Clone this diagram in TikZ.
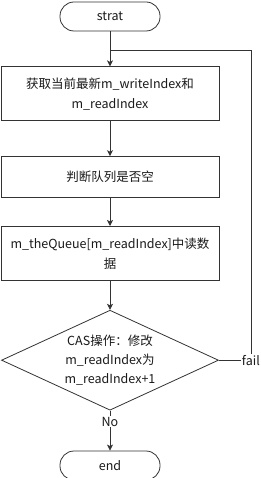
\documentclass[tikz,border=0pt]{standalone}
\usepackage{fontspec}
\setmainfont{Noto Sans CJK SC}
\usepackage{xcolor}
\usepackage{tikz}
\usetikzlibrary{positioning,arrows.meta,shapes.geometric,calc}
\definecolor{clinea}{HTML}{333333}
\definecolor{ctexto}{HTML}{1A1A1A}
\tikzset{
  caja/.style={rectangle, draw=clinea, line width=0.8pt, fill=white,
    align=center, minimum width=218pt, font=\fontsize{12.5}{20}\selectfont, text=ctexto},
  cajat/.style={rectangle, rounded corners=14pt, draw=clinea, line width=0.8pt,
    minimum width=100pt, minimum height=29pt, font=\fontsize{12.5}{20}\selectfont, text=ctexto},
  rombo/.style={diamond, draw=clinea, line width=0.8pt, aspect=2.2, inner sep=0pt,
    minimum width=217pt, minimum height=100pt, align=center,
    font=\fontsize{12.5}{19}\selectfont, text=ctexto},
  flecha/.style={-{Stealth[length=6pt, width=6pt, inset=1.5pt]}, line width=0.8pt, draw=clinea},
  linea/.style={line width=0.8pt, draw=clinea},
  etq/.style={font=\fontsize{12.5}{15}\selectfont, text=ctexto, fill=white, inner sep=1pt},
}
\begin{document}
\begin{tikzpicture}
  \useasboundingbox (0,0) rectangle (261pt,-478pt);
  \node[cajat] (inicio) at (110pt,-16.5pt) {strat};
  \node[caja, below=35pt of inicio, minimum height=54pt] (obtener) {获取当前最新m\_writeIndex和\\m\_readIndex};
  \node[caja, below=35pt of obtener, minimum height=41pt] (vacio) {判断队列是否空};
  \node[caja, below=28pt of vacio, minimum height=54pt] (leer) {m\_theQueue[m\_readIndex]中读数\\据};
  \node[rombo, below=29pt of leer] (cas) {CAS操作：修改\\m\_readIndex为\\m\_readIndex+1};
  \node[cajat, below=40pt of cas] (fin) {end};
  \coordinate[below=19pt of inicio.south] (union);
  \node[etq] (fail) at ([xshift=32pt]cas.east) {fail};
  \draw[flecha] (inicio) -- (obtener);
  \draw[flecha] (obtener) -- (vacio);
  \draw[flecha] (vacio) -- (leer);
  \draw[flecha] (leer) -- (cas);
  \draw[flecha] (cas) -- node[etq, pos=0.28] (no) {No} (fin);
  \draw[linea] (cas.east) -- (fail);
  \draw[linea] (fail) |- (union);
\end{tikzpicture}
\end{document}
